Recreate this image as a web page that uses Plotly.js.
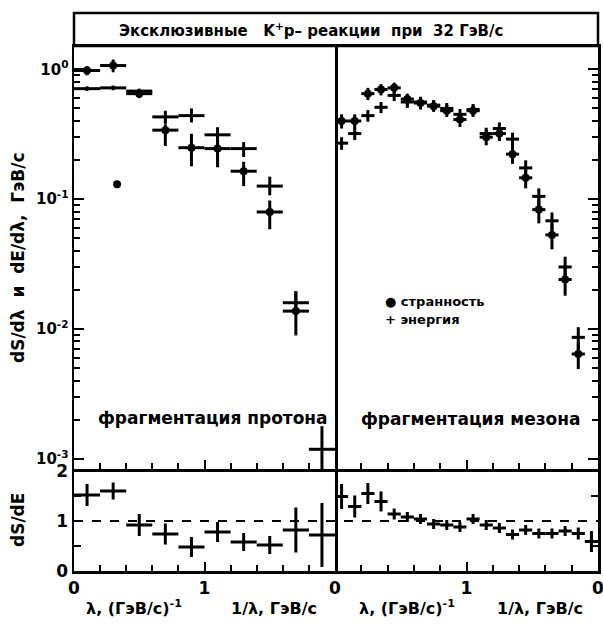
<!DOCTYPE html>
<html>
<head>
<meta charset="utf-8">
<script src="https://cdn.plot.ly/plotly-3.0.1.min.js"></script>
<style>html,body{margin:0;padding:0;background:#fff;}#plot{width:603px;height:627px;}</style>
</head>
<body>
<div id="plot"></div>
<script>
// ---------- data ----------
// upper-left panel: proton fragmentation (bins 0.2 wide)
const protonX       = [0.1, 0.3, 0.5, 0.7, 0.9, 1.1, 1.3, 1.5, 1.7, 1.9];
const protonEnergy  = [0.71, 0.72, 0.68, 0.43, 0.44, 0.313, 0.245, 0.126, 0.0159, 0.00118];
const protonEnErrP  = [0.03, 0.03, 0.03, 0.05, 0.06, 0.045, 0.03, 0.023, 0.0036, 0.0006];
const protonEnErrM  = [0.03, 0.03, 0.03, 0.05, 0.05, 0.043, 0.034, 0.019, 0.003, 0.0004];
const protonStrX    = [0.1, 0.3, 0.5, 0.7, 0.9, 1.1, 1.3, 1.5, 1.7];
const protonStrange = [0.98, 1.07, 0.65, 0.34, 0.249, 0.245, 0.164, 0.0796, 0.0137];
const protonStErrP  = [0.08, 0.12, 0.05, 0.037, 0.07, 0.074, 0.03, 0.018, 0.0058];
const protonStErrM  = [0.08, 0.12, 0.05, 0.083, 0.07, 0.069, 0.038, 0.021, 0.0048];
const protonStrayX  = [0.33];
const protonStrayY  = [0.13];
const protonHalfBin = 0.1;

// upper-right panel: meson fragmentation (bins 0.1 wide)
const mesonX        = [0.05,0.15,0.25,0.35,0.45,0.55,0.65,0.75,0.85,0.95,1.05,1.15,1.25,1.35,1.45,1.55,1.65,1.75,1.85];
const mesonStrange  = [0.40,0.40,0.65,0.70,0.72,0.59,0.55,0.52,0.48,0.41,0.48,0.30,0.32,0.222,0.146,0.083,0.053,0.024,0.0064];
const mesonStErr    = [0.05,0.05,0.07,0.07,0.07,0.06,0.06,0.05,0.05,0.05,0.05,0.04,0.04,0.035,0.025,0.018,0.012,0.006,0.0015];
const mesonEnergy   = [0.27,0.32,0.44,0.51,0.63,0.56,0.56,0.53,0.50,0.45,0.49,0.32,0.35,0.29,0.174,0.105,0.068,0.030,0.0086];
const mesonEnErr    = [0.03,0.035,0.045,0.05,0.06,0.055,0.055,0.05,0.05,0.045,0.05,0.035,0.04,0.035,0.025,0.016,0.011,0.006,0.0017];
const mesonHalfBin  = 0.05;

// lower panels: ratio dS/dE
const ratioLeftX    = [0.1, 0.3, 0.5, 0.7, 0.9, 1.1, 1.3, 1.5, 1.7, 1.9];
const ratioLeft     = [1.52, 1.60, 0.92, 0.74, 0.48, 0.78, 0.58, 0.52, 0.82, 0.72];
const ratioLeftErr  = [0.22, 0.17, 0.22, 0.21, 0.20, 0.20, 0.18, 0.18, 0.45, 0.64];
const ratioRightX   = [0.05,0.15,0.25,0.35,0.45,0.55,0.65,0.75,0.85,0.95,1.05,1.15,1.25,1.35,1.45,1.55,1.65,1.75,1.85,1.95];
const ratioRight    = [1.49,1.29,1.55,1.39,1.14,1.08,1.04,0.94,0.92,0.88,1.04,0.92,0.86,0.73,0.82,0.75,0.75,0.80,0.75,0.59];
const ratioRightErr = [0.25,0.22,0.21,0.20,0.11,0.10,0.10,0.10,0.10,0.10,0.10,0.10,0.10,0.10,0.10,0.10,0.10,0.10,0.12,0.21];

// ticks
const logTickVals   = [0.001, 0.01, 0.1, 1];
const logTickText   = ['10<sup>-3</sup>', '10<sup>-2</sup>', '10<sup>-1</sup>', '10<sup>0</sup>'];
const logMinorVals  = [];
for (const d of [0.001, 0.01, 0.1, 1]) for (let k = 2; k <= 9; k++) logMinorVals.push(d * k);
const xTickVals     = [0, 1, 2];
const xTickTextL    = ['0', '1', ''];
const xTickTextR    = ['0', '1', '0'];
const ratioTickVals = [0, 1, 2];
const ratioTickText = ['0', '1', '2'];
const ratioMinor    = [0.5, 1.5];

// ---------- styling / layout ----------
const W = 603, H = 627;
const px = v => v / W;
const py = v => 1 - v / H;
const xL = [px(74), px(335)], xR = [px(335), px(598)];
const yU = [py(469), py(46)], yD = [py(571), py(469)];
const LW = 2.5, EW = 3;
const FONT = 'DejaVu Sans';

function errY(p, m) { return {type:'data', symmetric:false, array:p, arrayminus:m, color:'black', thickness:EW, width:0}; }
function errX(v) { return {type:'constant', value:v, color:'black', thickness:EW, width:0}; }
function cross(x, y, ex, ey, xa, ya, msize) {
  return {x:x, y:y, xaxis:xa, yaxis:ya, type:'scatter', mode:'markers', showlegend:false, hoverinfo:'skip',
          marker:{color:'black', size:msize, symbol:'circle'}, error_x:errX(ex), error_y:ey, cliponaxis:true};
}

const traces = [
  cross(protonX, protonEnergy, protonHalfBin, errY(protonEnErrP, protonEnErrM), 'x', 'y', 2),
  cross(protonStrX, protonStrange, protonHalfBin, errY(protonStErrP, protonStErrM), 'x', 'y', 8),
  {x:protonStrayX, y:protonStrayY, xaxis:'x', yaxis:'y', type:'scatter', mode:'markers', showlegend:false,
   marker:{color:'black', size:8}},
  cross(mesonX, mesonEnergy, mesonHalfBin, errY(mesonEnErr, mesonEnErr), 'x2', 'y2', 2),
  cross(mesonX, mesonStrange, mesonHalfBin, errY(mesonStErr, mesonStErr), 'x2', 'y2', 8),
  cross(ratioLeftX, ratioLeft, protonHalfBin, errY(ratioLeftErr, ratioLeftErr), 'x3', 'y3', 2),
  cross(ratioRightX, ratioRight, mesonHalfBin, errY(ratioRightErr, ratioRightErr), 'x4', 'y4', 2)
];

const tf = {family:FONT, size:17, color:'black', weight:'bold'};
const tfLog = {family:FONT, size:15, color:'black', weight:'bold'};
function xAxis(dom, anchor, showLabels, text, mirror) {
  return {domain:dom, anchor:anchor, range:[0,2], showline:true, mirror:mirror, linecolor:'black', linewidth:LW,
          showgrid:false, zeroline:false, ticks:'inside', ticklen:9, tickwidth:2, tickcolor:'black',
          tickvals:xTickVals, ticktext:text, showticklabels:showLabels, tickfont:tf, ticklabeloverflow:'allow',
          minor:{dtick:0.2, tick0:0, ticks:'inside', ticklen:6, tickwidth:2, tickcolor:'black', showgrid:false}};
}
function logAxis(dom, anchor, side, showLabels, mirror) {
  return {domain:dom, anchor:anchor, type:'log', range:[-3.08, 0.18], side:side, showline:true, mirror:mirror,
          linecolor:'black', linewidth:LW, showgrid:false, zeroline:false, ticks:'inside', ticklen:10, tickwidth:2,
          tickcolor:'black', tickvals:logTickVals, ticktext:logTickText, showticklabels:showLabels, tickfont:tfLog,
          minor:{tickvals:logMinorVals, ticks:'inside', ticklen:6, tickwidth:2, tickcolor:'black', showgrid:false}};
}
function ratioAxis(dom, anchor, side, showLabels, mirror) {
  return {domain:dom, anchor:anchor, range:[0, 2.04], side:side, showline:true, mirror:mirror, linecolor:'black',
          linewidth:LW, showgrid:false, zeroline:false, ticks:'', tickvals:ratioTickVals, ticktext:ratioTickText,
          showticklabels:showLabels, tickfont:tf,
          minor:{tickvals:ratioMinor, ticks:'inside', ticklen:7, tickwidth:2, tickcolor:'black', showgrid:false}};
}

const ann = (text, x, y, size, extra) => Object.assign({text:text, x:x, y:y, xref:'paper', yref:'paper',
  xanchor:'center', yanchor:'middle', showarrow:false,
  font:{family:FONT, size:size, color:'black', weight:'bold'}}, extra || {});

const xTitleA = 'λ, (ГэВ/с)<sup>-1</sup>';
const xTitleB = '1/λ, ГэВ/с';

const layout = {
  width:W, height:H, margin:{l:0, r:0, t:0, b:0}, paper_bgcolor:'white', plot_bgcolor:'white', showlegend:false,
  xaxis: xAxis(xL, 'y', false, xTickTextL, true),
  xaxis2: xAxis(xR, 'y2', false, xTickTextR, true),
  xaxis3: xAxis(xL, 'y3', true, xTickTextL, false),
  xaxis4: xAxis(xR, 'y4', true, xTickTextR, false),
  yaxis: logAxis(yU, 'x', 'left', true, true),
  yaxis2: logAxis(yU, 'x2', 'right', false, false),
  yaxis3: ratioAxis(yD, 'x3', 'left', true, true),
  yaxis4: ratioAxis(yD, 'x4', 'right', false, false),
  shapes: [
    {type:'rect', xref:'paper', yref:'paper', x0:px(74), x1:px(598), y0:py(46), y1:py(13), line:{color:'black', width:LW}},
    {type:'line', xref:'paper', yref:'y3', x0:px(74), x1:px(598), y0:1, y1:1, line:{color:'black', width:2, dash:'dash'}}
  ],
  annotations: [
    ann('Эксклюзивные\u00a0\u00a0 K<sup>+</sup>p– реакции\u00a0 при\u00a0 32 ГэВ/с', px(311), py(30), 15),
    ann('фрагментация протона', px(213), py(418), 17),
    ann('фрагментация мезона', px(470), py(419), 17),
    ann('● странность', px(383), py(301), 13, {xanchor:'left'}),
    ann('+ энергия', px(383), py(319), 13, {xanchor:'left'}),
    ann('dS/dλ\u00a0 и\u00a0 dE/dλ,\u00a0 ГэВ/с', px(18), py(258), 17, {textangle:-90}),
    ann('dS/dE', px(18), py(520), 17, {textangle:-90}),
    ann(xTitleA, px(134), py(607), 16),
    ann(xTitleB, px(274), py(608), 16),
    ann(xTitleA, px(407), py(607), 16),
    ann(xTitleB, px(540), py(608), 16)
  ]
};

Plotly.newPlot('plot', traces, layout, {staticPlot:true, displayModeBar:false});
</script>
</body>
</html>
